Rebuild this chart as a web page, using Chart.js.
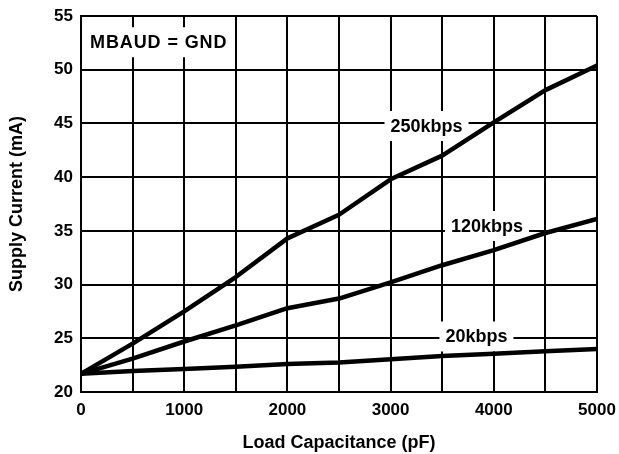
<!DOCTYPE html>
<html>
<head>
<meta charset="utf-8">
<script src="https://cdn.jsdelivr.net/npm/chart.js@4/dist/chart.umd.min.js"></script>
<style>
  html, body { margin: 0; padding: 0; background: #fff; }
  canvas { display: block; }
</style>
</head>
<body>
<canvas id="c" width="619" height="454"></canvas>
<script>
// ---- data ----
const loadCapacitance = [0, 500, 1000, 1500, 2000, 2500, 3000, 3500, 4000, 4500, 5000];
const current250kbps = [21.7, 24.5, 27.5, 30.7, 34.3, 36.5, 39.8, 42.0, 45.1, 48.1, 50.4];
const current120kbps = [21.7, 23.1, 24.7, 26.2, 27.8, 28.7, 30.2, 31.8, 33.2, 34.8, 36.1];
const current20kbps  = [21.7, 21.95, 22.15, 22.35, 22.6, 22.75, 23.05, 23.35, 23.55, 23.8, 24.0];
const seriesNames = ['250kbps', '120kbps', '20kbps'];
const xTickLabels = ['0', '1000', '2000', '3000', '4000', '5000'];
const yTickLabels = ['20', '25', '30', '35', '40', '45', '50', '55'];
// in-plot labels (text, anchor in data units)
const noteTexts = ['250kbps', '120kbps', '20kbps', 'MBAUD = GND'];
const noteX = [3348, 3934, 3832, 753];
const noteY = [44.76, 35.45, 25.17, 52.56];

const FONT = '"Liberation Sans", Arial, Helvetica, sans-serif';

function toPoints(vals) {
  return loadCapacitance.map((x, i) => ({ x: x, y: vals[i] }));
}

const notesPlugin = {
  id: 'notes',
  beforeDatasetsDraw(chart) {
    const { ctx, scales } = chart;
    const xs = scales.x, ys = scales.y;
    ctx.save();
    noteTexts.forEach((t, i) => {
      ctx.font = 'bold 18px ' + FONT;
      if (t.indexOf('=') >= 0) { ctx.letterSpacing = '0.9px'; } else { ctx.letterSpacing = '0px'; }
      const w = ctx.measureText(t).width;
      const cx = xs.getPixelForValue(noteX[i]);
      const cy = ys.getPixelForValue(noteY[i]);
      ctx.fillStyle = '#fff';
      ctx.fillRect(cx - w / 2 - 6, cy - 15, w + 12, 30);
      ctx.fillStyle = '#000';
      ctx.textAlign = 'center';
      ctx.textBaseline = 'middle';
      ctx.fillText(t, cx, cy + 1);
    });
    ctx.restore();
  }
};

const lineStyle = {
  borderColor: '#000',
  borderWidth: 4.5,
  pointRadius: 0,
  tension: 0,
  fill: false,
  borderJoinStyle: 'round',
  borderCapStyle: 'butt'
};

new Chart(document.getElementById('c'), {
  type: 'line',
  data: {
    datasets: [
      Object.assign({ label: seriesNames[0], data: toPoints(current250kbps) }, lineStyle),
      Object.assign({ label: seriesNames[1], data: toPoints(current120kbps) }, lineStyle),
      Object.assign({ label: seriesNames[2], data: toPoints(current20kbps) }, lineStyle)
    ]
  },
  options: {
    responsive: false,
    animation: false,
    devicePixelRatio: 1,
    layout: { padding: { left: 0, right: 22, top: 16, bottom: 0 } },
    plugins: {
      legend: { display: false },
      tooltip: { enabled: false }
    },
    scales: {
      x: {
        type: 'linear',
        min: 0,
        max: 5000,
        afterFit(scale) { scale.height = 62; scale.paddingRight = 0; scale.paddingLeft = 0; },
        ticks: {
          stepSize: 500,
          autoSkip: false,
          maxRotation: 0,
          padding: 8,
          color: '#000',
          font: { family: FONT, size: 17, weight: 'bold' },
          callback: (v) => xTickLabels.includes(String(v)) ? String(v) : ''
        },
        grid: { color: '#000', lineWidth: 2, drawTicks: false },
        border: { display: true, color: '#000', width: 2 },
        title: {
          display: true,
          text: 'Load Capacitance (pF)',
          color: '#000',
          font: { family: FONT, size: 18, weight: 'bold' },
          padding: { top: 0, bottom: 0 }
        }
      },
      y: {
        type: 'linear',
        min: 20,
        max: 55,
        afterFit(scale) { scale.width = 81; scale.paddingTop = 0; scale.paddingBottom = 0; },
        ticks: {
          stepSize: 5,
          autoSkip: false,
          padding: 8,
          color: '#000',
          font: { family: FONT, size: 17, weight: 'bold' },
          callback: (v) => yTickLabels.includes(String(v)) ? String(v) : ''
        },
        grid: { color: '#000', lineWidth: 2, drawTicks: false },
        border: { display: true, color: '#000', width: 2 },
        title: {
          display: true,
          text: 'Supply Current (mA)',
          color: '#000',
          font: { family: FONT, size: 18, weight: 'bold' },
          padding: { top: 6, bottom: 0 }
        }
      }
    }
  },
  plugins: [notesPlugin]
});
</script>
</body>
</html>
